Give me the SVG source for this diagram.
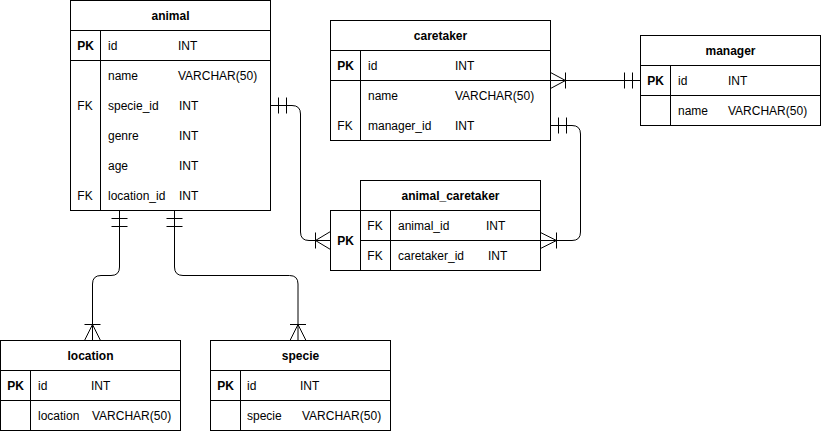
<svg xmlns="http://www.w3.org/2000/svg" width="821" height="431" viewBox="0 0 821 431">
<style>
.box{fill:#fff;stroke:#000;stroke-width:1}
.ln{fill:none;stroke:#000;stroke-width:1}
text{font-family:"Liberation Sans",Arial,sans-serif;font-size:12px;fill:#000}
.h{font-weight:bold;text-anchor:middle}
.pk{font-weight:bold;text-anchor:middle}
.fk{text-anchor:middle}
</style>
<rect width="821" height="431" fill="#fff"/>
<g id="connectors" class="ln">
  <path d="M270.5,105.5 H292 Q300.5,105.5 300.5,114 V232 Q300.5,240.5 309,240.5 H330.5"/>
  <path d="M278.5,97.5 V113.5 M286.5,97.5 V113.5"/>
  <path d="M315.5,232.5 V248.5 M330.5,231.5 L315.5,240.5 L330.5,249.5"/>
  <path d="M550.5,80.5 H640.5"/>
  <path d="M550.5,72.5 L565.5,80.5 L550.5,88.5 M565.5,72.5 V88.5"/>
  <path d="M624.5,72.5 V88.5 M632.5,72.5 V88.5"/>
  <path d="M550.5,125.5 H572 Q580.5,125.5 580.5,134 V232 Q580.5,240.5 572,240.5 H540.5"/>
  <path d="M558.5,117.5 V133.5 M566.5,117.5 V133.5"/>
  <path d="M556.5,232.5 V248.5 M540.5,232.5 L556.5,240.5 L540.5,248.5"/>
  <path d="M119.5,210.5 V267 Q119.5,275.5 111,275.5 H101 Q92.5,275.5 92.5,284 V340.5"/>
  <path d="M111.5,218.5 H127.5 M111.5,226.5 H127.5"/>
  <path d="M84.5,324.5 H100.5 M84.5,340.5 L92.5,324.5 L100.5,340.5"/>
  <path d="M174.5,210.5 V267 Q174.5,275.5 183,275.5 H289.5 Q298,275.5 298,284 V340.5"/>
  <path d="M166.5,218.5 H182.5 M166.5,226.5 H182.5"/>
  <path d="M290,324.5 H306 M290,340.5 L298,324.5 L306,340.5"/>
</g>
<g id="animal">
  <rect class="box" x="70.5" y="0.5" width="200" height="210"/>
  <path class="ln" d="M70.5,30.5 H270.5 M70.5,60.5 H270.5 M100.5,30.5 V210.5"/>
  <text class="h" x="170.5" y="20">animal</text>
  <text class="pk" x="85.5" y="50">PK</text>
  <text x="108" y="50">id</text><text x="178" y="50">INT</text>
  <text x="108" y="80">name</text><text x="178" y="80">VARCHAR(50)</text>
  <text class="fk" x="85" y="110">FK</text>
  <text x="108" y="110">specie_id</text><text x="179" y="110">INT</text>
  <text x="108" y="140">genre</text><text x="179" y="140">INT</text>
  <text x="108" y="170">age</text><text x="179" y="170">INT</text>
  <text class="fk" x="85" y="200">FK</text>
  <text x="108" y="200">location_id</text><text x="179" y="200">INT</text>
</g>
<g id="caretaker">
  <rect class="box" x="330.5" y="20.5" width="220" height="120"/>
  <path class="ln" d="M330.5,50.5 H550.5 M330.5,80.5 H550.5 M360.5,50.5 V140.5"/>
  <text class="h" x="440.5" y="40">caretaker</text>
  <text class="pk" x="345.5" y="70">PK</text>
  <text x="368" y="70">id</text><text x="455" y="70">INT</text>
  <text x="368" y="100">name</text><text x="455" y="100">VARCHAR(50)</text>
  <text class="fk" x="345" y="130">FK</text>
  <text x="368" y="130">manager_id</text><text x="455" y="130">INT</text>
</g>
<g id="manager">
  <rect class="box" x="640.5" y="35.5" width="180" height="90"/>
  <path class="ln" d="M640.5,65.5 H820.5 M640.5,95.5 H820.5 M670.5,65.5 V125.5"/>
  <text class="h" x="730.5" y="55">manager</text>
  <text class="pk" x="655.5" y="85">PK</text>
  <text x="678" y="85">id</text><text x="728" y="85">INT</text>
  <text x="678" y="115">name</text><text x="728" y="115">VARCHAR(50)</text>
</g>
<g id="animal_caretaker">
  <rect class="box" x="360.5" y="180.5" width="180" height="30"/>
  <rect class="box" x="330.5" y="210.5" width="30" height="60"/>
  <rect class="box" x="360.5" y="210.5" width="180" height="60"/>
  <path class="ln" d="M360.5,240.5 H540.5 M390.5,210.5 V270.5"/>
  <text class="h" x="450.5" y="200">animal_caretaker</text>
  <text class="pk" x="345.5" y="245">PK</text>
  <text class="fk" x="375" y="230">FK</text>
  <text x="398" y="230">animal_id</text><text x="486" y="230">INT</text>
  <text class="fk" x="375" y="260">FK</text>
  <text x="398" y="260">caretaker_id</text><text x="488" y="260">INT</text>
</g>
<g id="location">
  <rect class="box" x="0.5" y="340.5" width="180" height="90"/>
  <path class="ln" d="M0.5,370.5 H180.5 M0.5,400.5 H180.5 M30.5,370.5 V430.5"/>
  <text class="h" x="90.5" y="360">location</text>
  <text class="pk" x="15.5" y="390">PK</text>
  <text x="38" y="390">id</text><text x="91" y="390">INT</text>
  <text x="38" y="420">location</text><text x="92" y="420">VARCHAR(50)</text>
</g>
<g id="specie">
  <rect class="box" x="210.5" y="340.5" width="180" height="90"/>
  <path class="ln" d="M210.5,370.5 H390.5 M210.5,400.5 H390.5 M240.5,370.5 V430.5"/>
  <text class="h" x="300.5" y="360">specie</text>
  <text class="pk" x="225.5" y="390">PK</text>
  <text x="247" y="390">id</text><text x="300" y="390">INT</text>
  <text x="247" y="420">specie</text><text x="302" y="420">VARCHAR(50)</text>
</g>
</svg>
